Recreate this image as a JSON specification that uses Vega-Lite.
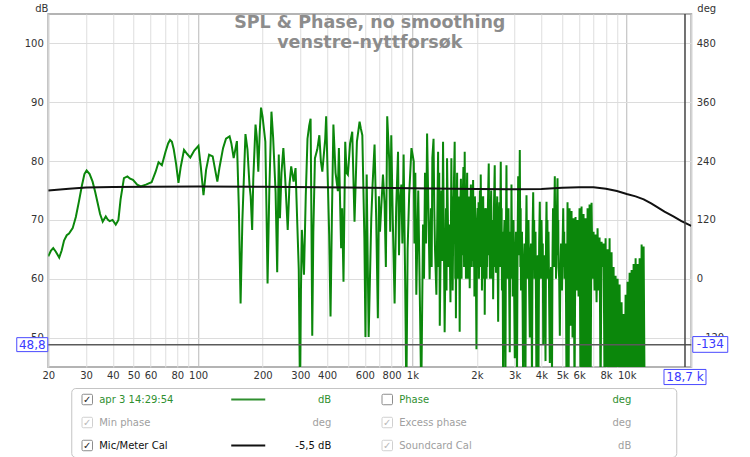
{
  "$schema": "https://vega.github.io/schema/vega-lite/v6.json",
  "background": "white",
  "autosize": {"type": "pad"},
  "padding": {"left": 13, "top": 2, "right": 20, "bottom": 2},
  "spacing": -5,
  "columns": 1,
  "center": true,
  "datasets": {
    "spl": [
      {"freq":20,"db":63.8},{"freq":20.6,"db":64.8},{"freq":21.1,"db":65.2},{"freq":21.7,"db":64.6},{"freq":22.5,"db":63.6},
      {"freq":23.1,"db":64.8},{"freq":23.7,"db":66.5},{"freq":24.4,"db":67.4},{"freq":25.0,"db":67.7},{"freq":26.0,"db":68.6},
      {"freq":26.9,"db":70.5},{"freq":27.8,"db":73.1},{"freq":28.7,"db":75.8},{"freq":29.5,"db":77.8},{"freq":30.2,"db":78.4},
      {"freq":31.2,"db":77.8},{"freq":32.2,"db":76.5},{"freq":33.1,"db":74.8},{"freq":33.9,"db":73.1},{"freq":34.9,"db":71.0},
      {"freq":35.9,"db":69.7},{"freq":37.1,"db":70.6},{"freq":38.0,"db":70.0},{"freq":38.7,"db":69.8},{"freq":39.9,"db":70.0},
      {"freq":41.3,"db":69.2},{"freq":42.5,"db":70.0},{"freq":43.5,"db":73.5},{"freq":45.1,"db":77.1},{"freq":46.8,"db":77.4},
      {"freq":48.2,"db":77.0},{"freq":49.7,"db":76.8},{"freq":52.0,"db":76.0},{"freq":54.0,"db":75.7},{"freq":57.1,"db":76.0},
      {"freq":60.7,"db":76.4},{"freq":63.4,"db":78.2},{"freq":65.4,"db":79.8},{"freq":67.8,"db":79.3},{"freq":70.5,"db":81.6},
      {"freq":72.5,"db":83.0},{"freq":74.0,"db":83.6},{"freq":75.5,"db":83.3},{"freq":77.0,"db":82.0},{"freq":79.0,"db":79.5},
      {"freq":81.0,"db":76.3},{"freq":83.0,"db":79.0},{"freq":86.0,"db":81.9},{"freq":89.0,"db":81.2},{"freq":92.0,"db":80.6},
      {"freq":96.0,"db":81.8},{"freq":100.4,"db":82.6},{"freq":103.0,"db":79.0},{"freq":106.0,"db":74.2},{"freq":109.0,"db":78.5},
      {"freq":112.6,"db":81.1},{"freq":117.0,"db":80.8},{"freq":123.0,"db":76.5},{"freq":126.0,"db":79.0},{"freq":130.8,"db":82.2},
      {"freq":135.0,"db":83.8},{"freq":140.3,"db":84.2},{"freq":143.0,"db":83.0},{"freq":146.6,"db":80.5},{"freq":151.8,"db":83.4},
      {"freq":155.0,"db":72.0},{"freq":157.9,"db":55.8},{"freq":161.0,"db":70.0},{"freq":166.4,"db":84.6},{"freq":170.0,"db":82.0},
      {"freq":173.7,"db":76.0},{"freq":176.0,"db":74.0},{"freq":178.8,"db":68.3},{"freq":181.0,"db":77.0},{"freq":185.4,"db":86.2},
      {"freq":188.0,"db":84.0},{"freq":191.0,"db":78.2},{"freq":194.0,"db":85.0},{"freq":196.7,"db":89.1},{"freq":200.0,"db":87.5},
      {"freq":206.0,"db":83.3},{"freq":208.5,"db":72.0},{"freq":211.0,"db":59.2},{"freq":215.0,"db":75.0},{"freq":220.0,"db":88.4},
      {"freq":224.0,"db":84.0},{"freq":230.0,"db":74.7},{"freq":234.0,"db":61.1},{"freq":238.0,"db":81.1},{"freq":241.0,"db":70.3},
      {"freq":245.0,"db":78.0},{"freq":250.0,"db":82.2},{"freq":255.0,"db":77.0},{"freq":262.0,"db":68.3},{"freq":267.0,"db":76.0},
      {"freq":272.0,"db":79.1},{"freq":279.0,"db":76.5},{"freq":285.0,"db":78.8},{"freq":290.0,"db":70.0},{"freq":295.0,"db":61.6},
      {"freq":299.0,"db":40.0},{"freq":302.0,"db":58.0},{"freq":305.0,"db":68.3},{"freq":309.0,"db":64.0},{"freq":312.0,"db":60.7},
      {"freq":318.0,"db":74.0},{"freq":324.0,"db":83.8},{"freq":330.0,"db":86.0},{"freq":335.0,"db":87.2},{"freq":338.0,"db":70.0},
      {"freq":341.0,"db":50.3},{"freq":345.0,"db":68.0},{"freq":351.0,"db":80.5},{"freq":360.0,"db":82.0},{"freq":368.0,"db":84.4},
      {"freq":374.0,"db":80.0},{"freq":380.0,"db":78.2},{"freq":386.0,"db":81.0},{"freq":392.0,"db":83.8},{"freq":396.0,"db":87.6},
      {"freq":409,"db":67.5},{"freq":415,"db":53.6},{"freq":421,"db":70.0},{"freq":428,"db":86.2},{"freq":438,"db":78.0},
      {"freq":449,"db":74.9},{"freq":454,"db":82.2},{"freq":465,"db":65.2},{"freq":470,"db":72.0},{"freq":477,"db":59.5},
      {"freq":486,"db":83.3},{"freq":493,"db":78.0},{"freq":500,"db":77.7},{"freq":512,"db":83.0},{"freq":524,"db":85.0},
      {"freq":537,"db":69.7},{"freq":551,"db":83.3},{"freq":567,"db":86.7},{"freq":575,"db":85.5},{"freq":584,"db":84.4},
      {"freq":597,"db":66.9},{"freq":604,"db":50.1},{"freq":612,"db":77.7},{"freq":625,"db":50.1},{"freq":643,"db":70.3},
      {"freq":652,"db":76.0},{"freq":666,"db":82.8},{"freq":678,"db":70.0},{"freq":690,"db":53.3},{"freq":698,"db":74.0},
      {"freq":706,"db":68.0},{"freq":729,"db":77.7},{"freq":742,"db":72.6},{"freq":752,"db":62.0},{"freq":763,"db":87.6},
      {"freq":780,"db":80.0},{"freq":788,"db":68.0},{"freq":797,"db":84.4},{"freq":810,"db":70.0},{"freq":826,"db":55.8},
      {"freq":840,"db":72.0},{"freq":857,"db":81.6},{"freq":866,"db":64.0},{"freq":875,"db":73.1},{"freq":888,"db":76.0},
      {"freq":898,"db":66.0},{"freq":910,"db":81.1},{"freq":925,"db":60.0},{"freq":937,"db":40.0},{"freq":950,"db":65.0},
      {"freq":966,"db":74.3},{"freq":990,"db":82.2},{"freq":1015,"db":79.9},{"freq":1022,"db":66.0},{"freq":1032,"db":78.0},
      {"freq":1043,"db":57.3},{"freq":1065,"db":75.0},{"freq":1080,"db":60.0},{"freq":1100,"db":40.0},{"freq":1121,"db":69.2},
      {"freq":1133,"db":60.0},{"freq":1145,"db":78.0},{"freq":1158,"db":66.0},{"freq":1171,"db":84.7},{"freq":1190,"db":70.0},
      {"freq":1203,"db":59.9},{"freq":1220,"db":72.0},{"freq":1230,"db":62.0},{"freq":1239,"db":80.5},{"freq":1255,"db":83.8},
      {"freq":1265,"db":72.0},{"freq":1275,"db":65.0},{"freq":1294,"db":57.3},{"freq":1318,"db":81.6},{"freq":1326,"db":62.0},
      {"freq":1334,"db":78.0},{"freq":1342,"db":52.0},{"freq":1365,"db":75.0},{"freq":1378,"db":63.0},{"freq":1390,"db":83.3},
      {"freq":1414,"db":50.9},{"freq":1435,"db":72.0},{"freq":1443,"db":58.0},{"freq":1451,"db":80.5},{"freq":1475,"db":62.0},
      {"freq":1490,"db":69.2},{"freq":1505,"db":56.0},
      {"freq":1520,"db":80.5},{"freq":1530,"db":62},{"freq":1536,"db":74},{"freq":1541,"db":58},{"freq":1552,"db":70},
      {"freq":1562,"db":76},{"freq":1575,"db":83.3},{"freq":1585,"db":60},{"freq":1590,"db":72},{"freq":1596,"db":53.3},
      {"freq":1606,"db":70},{"freq":1617,"db":78},{"freq":1628,"db":60},{"freq":1633,"db":72},{"freq":1639,"db":62},
      {"freq":1650,"db":74},{"freq":1662,"db":51},{"freq":1673,"db":72},{"freq":1684,"db":77},{"freq":1696,"db":60},
      {"freq":1701,"db":72},{"freq":1707,"db":64},{"freq":1718,"db":74},{"freq":1730,"db":79},{"freq":1742,"db":62},
      {"freq":1754,"db":81.6},{"freq":1765,"db":66},{"freq":1771,"db":74},{"freq":1777,"db":60},{"freq":1789,"db":72},
      {"freq":1801,"db":78},{"freq":1813,"db":60},{"freq":1819,"db":72},{"freq":1825,"db":66},{"freq":1838,"db":74},
      {"freq":1851,"db":58.4},{"freq":1863,"db":70},{"freq":1875,"db":76},{"freq":1888,"db":62},{"freq":1894,"db":72},
      {"freq":1900,"db":63},{"freq":1910,"db":72},{"freq":1920,"db":76.8},{"freq":1933,"db":62},{"freq":1940,"db":72},
      {"freq":1947,"db":57},{"freq":1957,"db":74},{"freq":1968,"db":70},{"freq":1979,"db":60},{"freq":1990,"db":48},
      {"freq":2003,"db":68},{"freq":2016,"db":72},{"freq":2030,"db":62},{"freq":2037,"db":73},{"freq":2044,"db":60},
      {"freq":2055,"db":70},{"freq":2066,"db":75},{"freq":2075,"db":62},{"freq":2084,"db":77.7},{"freq":2097,"db":66},
      {"freq":2104,"db":74},{"freq":2111,"db":58},{"freq":2125,"db":70},{"freq":2139,"db":74},{"freq":2157,"db":60},
      {"freq":2166,"db":72},{"freq":2175,"db":53.9},{"freq":2189,"db":70},{"freq":2203,"db":72},{"freq":2218,"db":60},
      {"freq":2226,"db":71},{"freq":2233,"db":62},{"freq":2252,"db":73},{"freq":2271,"db":79.6},{"freq":2285,"db":64},
      {"freq":2292,"db":72},{"freq":2300,"db":60},{"freq":2315,"db":70},{"freq":2331,"db":75},{"freq":2347,"db":60},
      {"freq":2355,"db":70},{"freq":2363,"db":64},{"freq":2372,"db":70},{"freq":2381,"db":56.5},{"freq":2401,"db":72},
      {"freq":2422,"db":79.3},{"freq":2438,"db":62},{"freq":2446,"db":72},{"freq":2454,"db":61},{"freq":2470,"db":70},
      {"freq":2487,"db":74},{"freq":2500,"db":62},{"freq":2513,"db":52.7},{"freq":2530,"db":70},{"freq":2548,"db":73},
      {"freq":2566,"db":62},{"freq":2575,"db":74},{"freq":2584,"db":79.9},{"freq":2600,"db":64},{"freq":2608,"db":72},
      {"freq":2617,"db":58},{"freq":2634,"db":68},{"freq":2651,"db":40},{"freq":2670,"db":66},{"freq":2689,"db":70},
      {"freq":2703,"db":60},{"freq":2718,"db":44},{"freq":2732,"db":68},{"freq":2747,"db":79.3},{"freq":2765,"db":62},
      {"freq":2775,"db":70},{"freq":2784,"db":60},{"freq":2795,"db":68},{"freq":2807,"db":72},{"freq":2826,"db":60},
      {"freq":2846,"db":47.5},{"freq":2857,"db":64},{"freq":2868,"db":68},{"freq":2883,"db":60},{"freq":2899,"db":76},
      {"freq":2918,"db":62},{"freq":2928,"db":70},{"freq":2938,"db":57},{"freq":2950,"db":66},{"freq":2962,"db":70},
      {"freq":2983,"db":58},{"freq":3004,"db":46.5},{"freq":3023,"db":64},{"freq":3043,"db":68},{"freq":3060,"db":56},
      {"freq":3076,"db":42},{"freq":3096,"db":66},{"freq":3116,"db":77.4},{"freq":3143,"db":64},{"freq":3170,"db":81.9},
      {"freq":3190,"db":62},{"freq":3200,"db":72},{"freq":3211,"db":58},{"freq":3228,"db":66},{"freq":3246,"db":68},
      {"freq":3267,"db":56},{"freq":3288,"db":40},{"freq":3311,"db":62},{"freq":3334,"db":66},{"freq":3352,"db":58},
      {"freq":3370,"db":43},{"freq":3388,"db":66},{"freq":3407,"db":74.2},{"freq":3430,"db":62},{"freq":3441,"db":70},
      {"freq":3453,"db":60},{"freq":3467,"db":68},{"freq":3481,"db":70},{"freq":3505,"db":58},{"freq":3530,"db":50},
      {"freq":3553,"db":64},{"freq":3576,"db":66},{"freq":3595,"db":56},{"freq":3614,"db":42},{"freq":3637,"db":68},
      {"freq":3661,"db":74.7},{"freq":3687,"db":62},{"freq":3700,"db":70},{"freq":3713,"db":60},{"freq":3733,"db":66},
      {"freq":3753,"db":68},{"freq":3773,"db":56},{"freq":3793,"db":40},{"freq":3819,"db":62},{"freq":3845,"db":64},
      {"freq":3860,"db":56},{"freq":3876,"db":44},{"freq":3903,"db":66},{"freq":3930,"db":73.1},{"freq":3955,"db":62},
      {"freq":3968,"db":70},{"freq":3981,"db":60},{"freq":4003,"db":70},{"freq":4040,"db":60},{"freq":4058,"db":66},
      {"freq":4077,"db":48.8},{"freq":4105,"db":62},{"freq":4134,"db":64},{"freq":4156,"db":56},{"freq":4179,"db":46},
      {"freq":4201,"db":66},{"freq":4224,"db":73.1},{"freq":4252,"db":62},{"freq":4266,"db":70},{"freq":4281,"db":60},
      {"freq":4316,"db":68},{"freq":4346,"db":56},{"freq":4377,"db":45.7},{"freq":4405,"db":60},{"freq":4434,"db":62},
      {"freq":4457,"db":56},{"freq":4481,"db":43},{"freq":4505,"db":64},{"freq":4530,"db":72},{"freq":4574,"db":62},
      {"freq":4596,"db":72},{"freq":4618,"db":77.4},{"freq":4648,"db":62},{"freq":4663,"db":70},{"freq":4678,"db":60},
      {"freq":4716,"db":70},{"freq":4754,"db":77.1},{"freq":4780,"db":64},{"freq":4793,"db":70},{"freq":4806,"db":62},
      {"freq":4840,"db":60},{"freq":4874,"db":50.3},{"freq":4905,"db":62},{"freq":4937,"db":66},{"freq":4963,"db":60},
      {"freq":4990,"db":58},{"freq":5022,"db":66},{"freq":5055,"db":72},{"freq":5090,"db":62},{"freq":5108,"db":68},
      {"freq":5126,"db":60},{"freq":5154,"db":64},{"freq":5182,"db":66},{"freq":5210,"db":56},{"freq":5238,"db":40},
      {"freq":5294,"db":73.0},{"freq":5352,"db":40},{"freq":5410,"db":72.0},{"freq":5468,"db":52},{"freq":5527,"db":71.5},
      {"freq":5587,"db":50},{"freq":5647,"db":70.3},{"freq":5708,"db":40},{"freq":5770,"db":70.5},{"freq":5832,"db":58},
      {"freq":5896,"db":70.0},{"freq":5959,"db":57},{"freq":6024,"db":72.0},{"freq":6089,"db":40},{"freq":6155,"db":72.3},
      {"freq":6222,"db":40},{"freq":6289,"db":71.0},{"freq":6357,"db":42},{"freq":6426,"db":70.3},{"freq":6495,"db":40},
      {"freq":6566,"db":72.0},{"freq":6637,"db":40},{"freq":6708,"db":72.6},{"freq":6781,"db":40},{"freq":6853,"db":72.9},
      {"freq":6927,"db":60},{"freq":7002,"db":68.0},{"freq":7078,"db":58},{"freq":7154,"db":67.5},{"freq":7232,"db":56},
      {"freq":7310,"db":68.6},{"freq":7389,"db":58},{"freq":7469,"db":67.0},{"freq":7550,"db":40},{"freq":7632,"db":66.3},
      {"freq":7715,"db":62},{"freq":7798,"db":66.0},{"freq":7882,"db":40},{"freq":7968,"db":66.9},{"freq":8054,"db":40},
      {"freq":8141,"db":65.0},{"freq":8229,"db":40},{"freq":8318,"db":66.9},{"freq":8408,"db":40},{"freq":8498,"db":64.5},
      {"freq":8590,"db":40},{"freq":8683,"db":62.0},{"freq":8777,"db":40},{"freq":8872,"db":60.5},{"freq":8968,"db":40},
      {"freq":9065,"db":60.0},{"freq":9163,"db":40},{"freq":9262,"db":59.0},{"freq":9362,"db":40},{"freq":9463,"db":56.0},
      {"freq":9565,"db":40},{"freq":9669,"db":54.0},{"freq":9773,"db":40},{"freq":9879,"db":57.3},{"freq":9986,"db":40},
      {"freq":10094,"db":59.5},{"freq":10203,"db":40},{"freq":10314,"db":61.0},{"freq":10425,"db":40},{"freq":10538,"db":61.5},
      {"freq":10652,"db":40},{"freq":10767,"db":62.5},{"freq":10884,"db":40},{"freq":11001,"db":63.5},{"freq":11120,"db":40},
      {"freq":11241,"db":62.5},{"freq":11362,"db":40},{"freq":11485,"db":63.5},{"freq":11610,"db":40},{"freq":11734,"db":65.8},
      {"freq":11861,"db":40},{"freq":11989,"db":65.5},{"freq":12119,"db":40}
    ],
    "cal": [
      {"freq":20,"db":75.0},{"freq":25,"db":75.3},{"freq":30,"db":75.5},{"freq":40,"db":75.6},{"freq":60,"db":75.65},
      {"freq":100,"db":75.7},{"freq":200,"db":75.65},{"freq":500,"db":75.5},{"freq":1000,"db":75.4},{"freq":2000,"db":75.25},
      {"freq":3000,"db":75.2},{"freq":4000,"db":75.25},{"freq":5000,"db":75.45},{"freq":6000,"db":75.55},{"freq":7000,"db":75.55},
      {"freq":8000,"db":75.3},{"freq":9000,"db":74.9},{"freq":10000,"db":74.4},{"freq":11000,"db":74.0},{"freq":12000,"db":73.5},
      {"freq":13000,"db":72.8},{"freq":14000,"db":72.1},{"freq":15000,"db":71.4},{"freq":16500,"db":70.6},{"freq":18000,"db":69.8},
      {"freq":20000,"db":69.0}
    ],
    "cursor": [
      {"freq":18700,"db":48.8,"deg":-134,"dbLabel":"48,8","degLabel":"-134","freqLabel":"18,7 k"}
    ],
    "legend": [
      {"row":"r1","col":"A","label":"apr 3 14:29:54","unit":"dB","checked":true,"status":"measurement","swatch":true},
      {"row":"r1","col":"B","label":"Phase","unit":"deg","checked":false,"status":"measurement","swatch":false},
      {"row":"r2","col":"A","label":"Min phase","unit":"deg","checked":true,"status":"disabled","swatch":false},
      {"row":"r2","col":"B","label":"Excess phase","unit":"deg","checked":true,"status":"disabled","swatch":false},
      {"row":"r3","col":"A","label":"Mic/Meter Cal","unit":"-5,5 dB","checked":true,"status":"calibration","swatch":true},
      {"row":"r3","col":"B","label":"Soundcard Cal","unit":"dB","checked":true,"status":"disabled","swatch":false}
    ]
  },
  "concat": [
    {
      "width": 643,
      "height": 353,
      "view": {"stroke": "#b4b4b4", "strokeWidth": 2},
      "title": {
        "text": ["SPL & Phase, no smoothing", "venstre-nyttforsøk"],
        "anchor": "middle", "frame": "group", "orient": "top", "baseline": "top",
        "offset": -13, "dy": 35, "fontSize": 17.5, "fontWeight": "bold", "color": "#8c8c8c",
        "font": "DejaVu Sans", "lineHeight": 20
      },
      "layer": [
        {
          "layer": [
            {
              "data": {"name": "spl"},
              "mark": {"type": "line", "color": "#0b870b", "strokeWidth": 2, "clip": true},
              "encoding": {
                "x": {
                  "field": "freq", "type": "quantitative", "title": null,
                  "scale": {"type": "log", "domain": [20, 20000], "nice": false},
                  "axis": {
                    "values": [20,30,40,50,60,70,80,90,100,200,300,400,500,600,700,800,900,1000,2000,3000,4000,5000,6000,7000,8000,9000,10000,20000],
                    "labelExpr": "indexof([70,90,500,700,900,7000,9000,20000], datum.value) >= 0 ? '' : (datum.value >= 1000 ? (datum.value/1000) + 'k' : '' + datum.value)",
                    "labelFlush": false, "labelOverlap": false, "labelPadding": 3,
                    "gridColor": {"condition": {"test": "indexof([100,1000,10000], datum.value) >= 0", "value": "#b8b8b8"}, "value": "#dedede"}
                  }
                },
                "y": {
                  "field": "db", "type": "quantitative", "title": "dB",
                  "scale": {"domain": [45, 105], "nice": false, "zero": false},
                  "axis": {
                    "values": [50,60,70,80,90,100], "labelPadding": 5,
                    "titleAngle": 0, "titleX": -7, "titleY": -6, "titleAlign": "center", "titleBaseline": "middle"
                  }
                }
              }
            },
            {
              "data": {"name": "cal"},
              "mark": {"type": "line", "color": "#111111", "strokeWidth": 2, "clip": true},
              "encoding": {
                "x": {"field": "freq", "type": "quantitative", "title": null},
                "y": {"field": "db", "type": "quantitative", "title": "dB"}
              }
            },
            {
              "data": {"name": "cursor"},
              "mark": {"type": "rule", "color": "#5a5a5a", "strokeWidth": 1.5},
              "encoding": {"y": {"field": "db", "type": "quantitative", "title": "dB"}}
            },
            {
              "data": {"name": "cursor"},
              "mark": {"type": "rule", "color": "#444444", "strokeWidth": 1.5},
              "encoding": {"x": {"field": "freq", "type": "quantitative", "title": null}}
            },
            {
              "data": {"name": "cursor"},
              "mark": {"type": "point", "shape": "M-1,-0.45H1V0.45H-1Z", "size": 961, "filled": true, "fill": "#ffffff", "stroke": "#4a4aff", "strokeWidth": 1, "opacity": 1, "xOffset": -16},
              "encoding": {
                "x": {"datum": 20, "type": "quantitative", "title": null},
                "y": {"field": "db", "type": "quantitative", "title": "dB"}
              }
            },
            {
              "data": {"name": "cursor"},
              "mark": {"type": "text", "color": "#3a3aff", "fontSize": 12, "dx": -16, "align": "center", "baseline": "middle"},
              "encoding": {
                "x": {"datum": 20, "type": "quantitative", "title": null},
                "y": {"field": "db", "type": "quantitative", "title": "dB"},
                "text": {"field": "dbLabel"}
              }
            },
            {
              "data": {"name": "cursor"},
              "mark": {"type": "point", "shape": "M-1,-0.36H1V0.36H-1Z", "size": 1764, "filled": true, "fill": "#ffffff", "stroke": "#4a4aff", "strokeWidth": 1, "opacity": 1, "yOffset": 10},
              "encoding": {
                "x": {"field": "freq", "type": "quantitative", "title": null},
                "y": {"datum": 45, "type": "quantitative", "title": "dB"}
              }
            },
            {
              "data": {"name": "cursor"},
              "mark": {"type": "text", "color": "#3a3aff", "fontSize": 12, "dy": 10, "align": "center", "baseline": "middle"},
              "encoding": {
                "x": {"field": "freq", "type": "quantitative", "title": null},
                "y": {"datum": 45, "type": "quantitative", "title": "dB"},
                "text": {"field": "freqLabel"}
              }
            }
          ]
        },
        {
          "data": {"name": "cursor"},
          "encoding": {
            "x": {"datum": 20000, "type": "quantitative", "title": null},
            "y": {
              "field": "deg", "type": "quantitative", "title": "deg",
              "scale": {"domain": [-180, 540], "nice": false, "zero": false},
              "axis": {
                "orient": "right", "values": [-120, 0, 120, 240, 360, 480], "grid": false, "labelPadding": 5,
                "titleAngle": 0, "titleX": 15, "titleY": -6, "titleAlign": "center", "titleBaseline": "middle"
              }
            }
          },
          "layer": [
            {"mark": {"type": "point", "shape": "M-1,-0.45H1V0.45H-1Z", "size": 1225, "filled": true, "fill": "#ffffff", "stroke": "#4a4aff", "strokeWidth": 1, "opacity": 1, "xOffset": 19}},
            {"mark": {"type": "text", "color": "#3a3aff", "fontSize": 12, "dx": 19, "align": "center", "baseline": "middle"}, "encoding": {"text": {"field": "degLabel"}}}
          ]
        }
      ],
      "resolve": {"scale": {"y": "independent"}}
    },
    {
      "width": 605,
      "height": 69,
      "view": {"stroke": "#c4c4c4", "strokeWidth": 1, "cornerRadius": 4, "fill": "white"},
      "data": {"name": "legend"},
      "encoding": {
        "x": {"field": "col", "type": "nominal", "scale": {"type": "point", "padding": 0.5083, "domain": ["A", "B"]}, "axis": null},
        "y": {
          "field": "row", "type": "nominal", "scale": {"type": "point", "padding": 0.5, "domain": ["r1", "r2", "r3"]},
          "axis": {"orient": "right", "labels": false, "ticks": false, "domain": false, "grid": false, "title": null, "minExtent": 31, "maxExtent": 31}
        }
      },
      "layer": [
        {
          "mark": {"type": "point", "shape": "M-0.75,-1H0.75Q1,-1 1,-0.75V0.75Q1,1 0.75,1H-0.75Q-1,1 -1,0.75V-0.75Q-1,-1 -0.75,-1Z", "size": 110, "filled": true, "fill": "white", "opacity": 1, "strokeWidth": 1, "xOffset": -136.5},
          "encoding": {"stroke": {"condition": {"test": "datum.status === 'disabled'", "value": "#d0d0d0"}, "value": "#8c8c8c"}}
        },
        {
          "transform": [{"filter": "datum.checked"}],
          "mark": {"type": "text", "text": "✓", "fontSize": 10, "dx": -136.5, "align": "center", "baseline": "middle"},
          "encoding": {"color": {"condition": {"test": "datum.status === 'disabled'", "value": "#b8b8b8"}, "value": "#222222"}}
        },
        {
          "mark": {"type": "text", "align": "left", "baseline": "middle", "dx": -124.5, "fontSize": 10},
          "encoding": {
            "text": {"field": "label"},
            "color": {"field": "status", "type": "nominal", "scale": {"domain": ["measurement", "calibration", "disabled"], "range": ["#2f8f2f", "#111111", "#a0a0a0"]}, "legend": null}
          }
        },
        {
          "mark": {"type": "text", "align": "right", "baseline": "middle", "dx": 107.5, "fontSize": 10},
          "encoding": {
            "text": {"field": "unit"},
            "color": {"field": "status", "type": "nominal", "scale": {"domain": ["measurement", "calibration", "disabled"], "range": ["#2f8f2f", "#111111", "#a0a0a0"]}, "legend": null}
          }
        },
        {
          "transform": [{"filter": "datum.swatch"}],
          "mark": {"type": "point", "shape": "stroke", "size": 1156, "strokeWidth": 2, "opacity": 1, "xOffset": 24.5},
          "encoding": {
            "color": {"field": "status", "type": "nominal", "scale": {"domain": ["measurement", "calibration", "disabled"], "range": ["#2f8f2f", "#111111", "#a0a0a0"]}, "legend": null}
          }
        }
      ]
    }
  ],
  "config": {
    "font": "DejaVu Sans",
    "view": {"stroke": null},
    "axis": {
      "labelFont": "DejaVu Sans", "labelFontSize": 10, "labelColor": "#333333",
      "titleFont": "DejaVu Sans", "titleFontSize": 10, "titleFontWeight": "normal", "titleColor": "#333333",
      "gridColor": "#dcdcdc", "ticks": false, "domain": false
    }
  }
}
